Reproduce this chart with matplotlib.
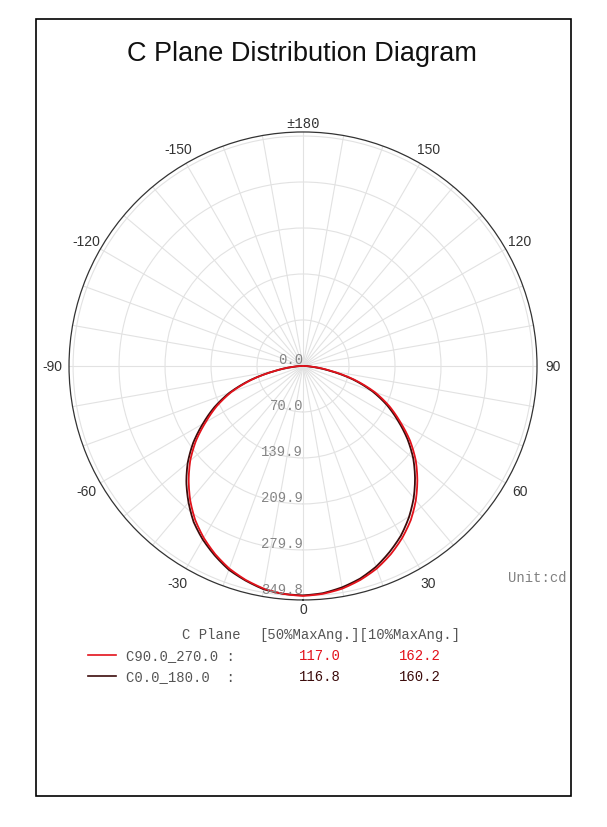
import numpy as np
import matplotlib
matplotlib.use('Agg')
import matplotlib.pyplot as plt
from matplotlib.patches import Rectangle
from matplotlib.lines import Line2D

# angles in degrees, 0 = straight down, positive to the right
angles = [-90, -85, -80, -75, -70, -65, -60, -55, -50, -45, -40, -35, -30, -25, -20, -15, -10, -5,
          0, 5, 10, 15, 20, 25, 30, 35, 40, 45, 50, 55, 60, 65, 70, 75, 80, 85, 90]
c90_270 = [0, 15, 43, 81, 116, 145, 171, 199, 224, 246, 267, 286, 302, 316, 328, 337, 344, 348,
           349.8, 348, 344, 337, 328, 316, 302, 286, 267, 246, 224, 199, 171, 145, 116, 81, 43, 15, 0]
c0_180 = [0, 15, 43, 83, 119, 149, 176, 204, 229, 251, 271, 290, 305, 318, 330, 338, 345, 348,
          349.0, 347, 342, 335, 325, 312, 298, 281, 262, 241, 219, 194, 167, 141, 112, 78, 40, 13, 0]

ring_values = [0, 69.97, 139.94, 209.91, 279.88, 349.8]
ring_labels = ['0.0', '70.0', '139.9', '209.9', '279.9', '349.8']
angle_ticks = [0, 30, 60, 90, 120, 150, 180, -150, -120, -90, -60, -30]
angle_labels = ['0', '30', '60', '90', '120', '150', '±180', '-150', '-120', '-90', '-60', '-30']

legend_names = ['C90.0_270.0 :', 'C0.0_180.0  :']
beam50 = ['117.0', '116.8']
beam10 = ['162.2', '160.2']
red = '#e3121b'
dark = '#3c0c0c'
colors = [red, dark]

fig = plt.figure(figsize=(6.07, 8.28), dpi=100)
fig.patch.set_facecolor('white')

# frame
fig.patches.append(Rectangle((0.0593, 0.0374), 0.8814, 0.9384, transform=fig.transFigure,
                             fill=False, edgecolor='black', linewidth=1.2))

fig.text(0.497, 0.935, 'C Plane Distribution Diagram', ha='center', va='center',
         fontsize=19.5, family='Liberation Sans', color='#111111')

ax = fig.add_axes([0.1137, 0.2742, 0.771, 0.5652], projection='polar')
ax.set_theta_zero_location('S')
ax.set_theta_direction(1)
rmax = 356
ax.set_ylim(0, rmax)
ax.set_xticks(np.radians(np.arange(0, 360, 10)))
ax.set_xticklabels([])
ax.set_yticks(ring_values[1:])
ax.set_yticklabels([])
ax.grid(True, color='#e2e2e2', linewidth=0.8)
ax.spines['polar'].set_color('#333333')
ax.spines['polar'].set_linewidth(0.9)

th = np.radians(angles)
for vals, col in [(c0_180, dark), (c90_270, red)]:
    line, = ax.plot(th, vals, color=col, linewidth=1.3)
    line.get_path()._interpolation_steps = 12

for v, s in zip(ring_values, ring_labels):
    ax.text(0, v, s, ha='right', va='bottom', fontsize=10, family='Liberation Mono',
            color='#858585')

for a, s in zip(angle_ticks, angle_labels):
    r = rmax * 1.07
    if a in (0, 180):
        r = rmax * 1.04
    fam = 'Liberation Mono' if a == 180 else 'Liberation Sans'
    ax.text(np.radians(a), r, s, ha='center', va='center', fontsize=10, family=fam,
            color='#333333')

fig.text(0.934, 1 - 578 / 828, 'Unit:cd', ha='right', va='center', fontsize=10,
         family='Liberation Mono', color='#808080')

# legend block
fig.text(241 / 607, 1 - 635 / 828, 'C Plane', ha='right', va='center', fontsize=10,
         family='Liberation Mono', color='#555555')
fig.text(259 / 607, 1 - 635 / 828, '[50%MaxAng.][10%MaxAng.]', ha='left', va='center',
         fontsize=10, family='Liberation Mono', color='#555555')
for i in range(2):
    y = 1 - (656 + 21 * i) / 828
    fig.lines.append(Line2D([88 / 607, 116 / 607], [y, y], transform=fig.transFigure,
                            color=colors[i], linewidth=1.2))
    fig.text(126 / 607, y, legend_names[i], ha='left', va='center', fontsize=10,
             family='Liberation Mono', color='#555555')
    fig.text(320 / 607, y, beam50[i], ha='center', va='center', fontsize=10,
             family='Liberation Mono', color=colors[i])
    fig.text(420 / 607, y, beam10[i], ha='center', va='center', fontsize=10,
             family='Liberation Mono', color=colors[i])

fig.savefig('out.png', dpi=100, facecolor='white')
